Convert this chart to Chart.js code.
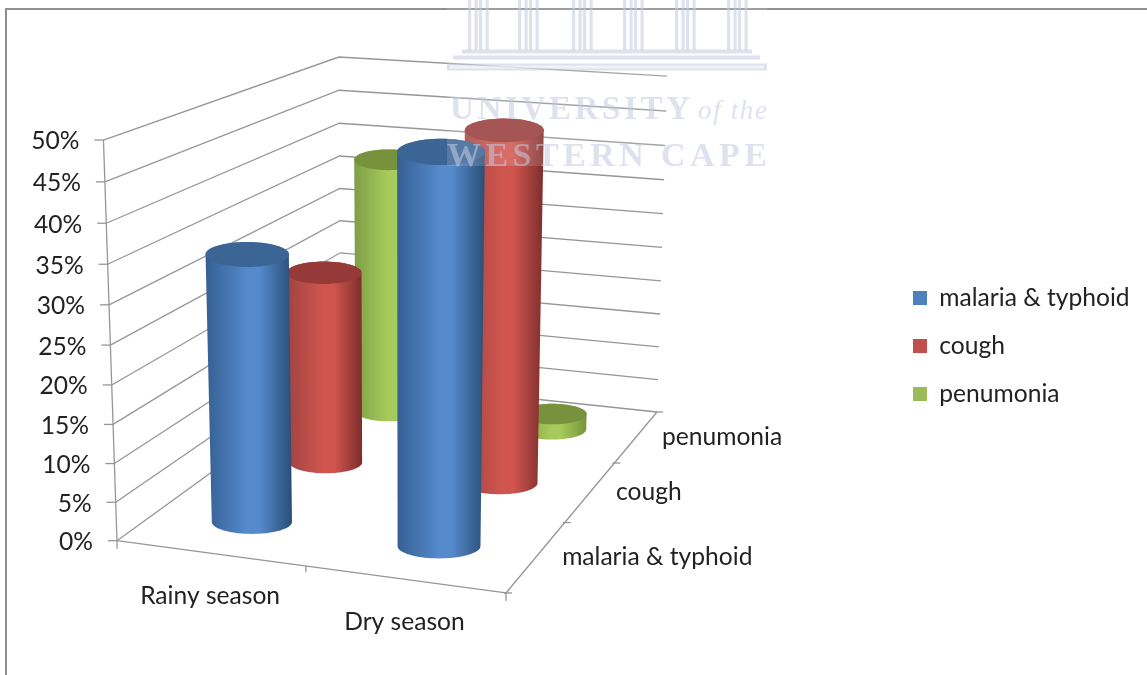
<!DOCTYPE html>
<html>
<head>
<meta charset="utf-8">
<title>Seasonal illness prevalence</title>
<style>html,body{margin:0;padding:0;background:#fff}canvas{display:block}</style>
<script src="https://cdn.jsdelivr.net/npm/chart.js@4/dist/chart.umd.js"></script>
</head>
<body>
<canvas id="chart" width="1147" height="675"></canvas>
<script>
// Chart data
const seasons = ['Rainy season', 'Dry season'];
const illnesses = ['malaria & typhoid', 'cough', 'penumonia'];
const malariaTyphoid = [34.5, 49];
const cough = [26.5, 47.5];
const pneumonia = [37.5, 2];
const percentLabels = ['0%', '5%', '10%', '15%', '20%', '25%', '30%', '35%', '40%', '45%', '50%'];

// Palette: [left edge, body highlight, right edge, cap]
const shades = {
  blue: ['#355f92', '#558acd', '#2b4e76', '#3b6595'],
  red: ['#a04341', '#d1554f', '#7c2e2c', '#953a38'],
  green: ['#7f9e48', '#a6ca5b', '#76953a', '#76923c']
};
const seriesFill = ['#4f81bd', '#c0504d', '#9bbb59'];

const FONT = 'Lato, "Open Sans", sans-serif';
const FONT_SIZE = 24.6;
const TEXT = '#222222';
const RULE = '#969696';

// Perspective camera: maps box coordinates (across, deep, up), each 0..1, to canvas pixels.
const camera = {
  origin: [117, 540.7],
  across: [360.6, 19.0],
  deep: [312, -64.5],
  up: [-18.3, -407.1],
  w: [-0.0561, 0.258, -0.046]
};
const depthTerm = (u, v, h) => 1 + camera.w[0] * u + camera.w[1] * v + camera.w[2] * h;
function project(u, v, h) {
  const d = depthTerm(u, v, h);
  return [
    (camera.origin[0] + camera.across[0] * u + camera.deep[0] * v + camera.up[0] * h) / d,
    (camera.origin[1] + camera.across[1] * u + camera.deep[1] * v + camera.up[1] * h) / d
  ];
}
const decimalOf = (scale, value) => scale.getDecimalForPixel(scale.getPixelForValue(value));

function segment(ctx, a, b) {
  ctx.beginPath();
  ctx.moveTo(a[0], a[1]);
  ctx.lineTo(b[0], b[1]);
  ctx.stroke();
}

// Cylinder cross-section: an upright ellipse whose width shrinks with distance.
const BASE_RADIUS = 41.5;
const RADIUS_FALLOFF = 1.2;
const ELLIPSE_RATIO = 0.3;
// Cylinders sit very slightly below the floor plane.
const FOOT_SINK = -0.006;

function ring(u, v, h) {
  const c = project(u, v, h);
  const rx = BASE_RADIUS / Math.pow(depthTerm(u, v, h), RADIUS_FALLOFF);
  const pts = [];
  for (let k = 0; k < 72; k++) {
    const t = k / 72 * Math.PI * 2;
    pts.push([c[0] + rx * Math.cos(t), c[1] + rx * ELLIPSE_RATIO * Math.sin(t)]);
  }
  return pts;
}
function hull(points) {
  const p = points.slice().sort((a, b) => a[0] - b[0] || a[1] - b[1]);
  const cross = (o, a, b) => (a[0] - o[0]) * (b[1] - o[1]) - (a[1] - o[1]) * (b[0] - o[0]);
  const half = list => {
    const out = [];
    for (const q of list) {
      while (out.length > 1 && cross(out[out.length - 2], out[out.length - 1], q) <= 0) out.pop();
      out.push(q);
    }
    out.pop();
    return out;
  };
  return half(p).concat(half(p.slice().reverse()));
}
function tracePolygon(ctx, pts) {
  ctx.beginPath();
  pts.forEach((q, i) => (i ? ctx.lineTo(q[0], q[1]) : ctx.moveTo(q[0], q[1])));
  ctx.closePath();
}

// Bar controller whose bars are drawn as perspective cylinders.
const BarBase = Chart.registry.getController('bar');
class CylinderController extends BarBase {
  draw() {
    const chart = this.chart;
    const ctx = chart.ctx;
    const meta = this.getMeta();
    const ds = this.getDataset();
    const v = decimalOf(chart.scales.depth, this.index);
    const [edgeA, bright, edgeB, cap] = ds.shades;
    meta._parsed.forEach(item => {
      const u = decimalOf(meta.xScale, item.x);
      const h = decimalOf(meta.yScale, item.y);
      const bottom = ring(u, v, FOOT_SINK);
      const top = ring(u, v, h);
      const outline = hull(bottom.concat(top));
      const xs = outline.map(q => q[0]);
      const grad = ctx.createLinearGradient(Math.min(...xs), 0, Math.max(...xs), 0);
      grad.addColorStop(0, edgeA);
      grad.addColorStop(0.48, bright);
      grad.addColorStop(0.62, bright);
      grad.addColorStop(1, edgeB);
      ctx.save();
      tracePolygon(ctx, outline);
      ctx.fillStyle = grad;
      ctx.fill();
      tracePolygon(ctx, top);
      ctx.fillStyle = cap;
      ctx.fill();
      ctx.restore();
    });
  }
}
CylinderController.id = 'cylinder';
CylinderController.defaults = BarBase.defaults;
CylinderController.overrides = BarBase.overrides;
Chart.register(CylinderController);

// Page frame, walls, floor, axes and axis labels sit underneath the cylinders.
const stagePlugin = {
  id: 'stage',
  afterLayout(chart) {
    const legend = chart.legend;
    const w = legend.width, h = legend.height;
    legend.left = 889.6; legend.right = 889.6 + w;
    legend.top = 346 - h / 2; legend.bottom = 346 + h / 2;
  },
  beforeDatasetsDraw(chart) {
    const ctx = chart.ctx;
    const { x: xs, y: ys, depth } = chart.scales;
    ctx.save();
    ctx.strokeStyle = '#8f8f8f';
    ctx.lineWidth = 2;
    ctx.beginPath();
    ctx.moveTo(6, 675); ctx.lineTo(6, 9); ctx.lineTo(1147, 9);
    ctx.stroke();

    ctx.strokeStyle = RULE;
    ctx.lineWidth = 1.3;
    ctx.fillStyle = TEXT;
    ctx.font = FONT_SIZE + 'px ' + FONT;
    ctx.textBaseline = 'middle';

    // Value gridlines along the left and back walls, plus their tick marks and labels.
    ys.ticks.forEach(tick => {
      const h = decimalOf(ys, tick.value);
      const a = project(0, 0, h), b = project(0, 1, h), c = project(1, 1, h);
      ctx.beginPath();
      ctx.moveTo(a[0], a[1]); ctx.lineTo(b[0], b[1]); ctx.lineTo(c[0], c[1]);
      ctx.stroke();
      segment(ctx, [a[0] - 9, a[1]], a);
      ctx.textAlign = 'right';
      ctx.fillText(tick.label, a[0] - 24, a[1] + 1.5);
    });
    segment(ctx, project(0, 0, 0), project(0, 0, 1));
    segment(ctx, project(0, 0, 0), project(1, 0, 0));
    segment(ctx, project(1, 0, 0), project(1, 1, 0));

    // Tick marks on the floor edges.
    [0, 0.5, 1].forEach(u => {
      const p = project(u, 0, 0);
      segment(ctx, p, [p[0], p[1] + (u === 0.5 ? 6 : 8)]);
    });
    [0, 1 / 3, 2 / 3, 1].forEach(v => {
      const p = project(1, v, 0);
      segment(ctx, [p[0] - 2, p[1]], [p[0] + 6, p[1]]);
    });

    // Season labels below the front edge, illness labels beside the right edge.
    seasons.forEach((name, i) => {
      const p = project(decimalOf(xs, i), 0, 0);
      ctx.textAlign = 'center';
      ctx.fillText(name, p[0], p[1] + 43);
    });
    illnesses.forEach((name, i) => {
      const p = project(1, decimalOf(depth, i), 0);
      ctx.textAlign = 'left';
      ctx.fillText(name, p[0] + 25.5, p[1] + 0.5);
    });
    ctx.restore();
  },
  // Pale institutional crest laid over the upper part of the plot.
  afterDatasetsDraw(chart) {
    const ctx = chart.ctx;
    ctx.save();
    ctx.fillStyle = 'rgba(255,255,255,0.14)';
    ctx.fillRect(447, 0, 320, 166);

    const ink = 'rgba(196,202,224,0.55)';
    ctx.fillStyle = ink;
    [468, 518, 572, 623, 675, 727].forEach(x => {
      [0, 6.5, 11, 17.5].forEach(dx => ctx.fillRect(x + dx, 0, 3.2, 50));
    });
    ctx.fillRect(462, 49.5, 290, 4);
    ctx.fillRect(453, 55.5, 307, 4);
    ctx.fillRect(447, 63.5, 320, 7);
    ctx.fillStyle = 'rgba(255,255,255,0.55)';
    ctx.fillRect(450, 65.5, 314, 3);

    const fitted = (text, font, left, right, baseline) => {
      ctx.font = font;
      ctx.letterSpacing = '0px';
      const spare = right - left - ctx.measureText(text).width;
      ctx.letterSpacing = (spare / (text.length - 1)) + 'px';
      ctx.fillText(text, left, baseline);
      ctx.letterSpacing = '0px';
    };
    ctx.fillStyle = ink;
    ctx.textAlign = 'left';
    ctx.textBaseline = 'alphabetic';
    fitted('UNIVERSITY', 'bold 33px "Liberation Serif"', 450, 690, 119);
    fitted('of the', 'italic 27px "Liberation Serif"', 698, 767, 119);
    fitted('WESTERN CAPE', 'bold 34px "Liberation Serif"', 447, 767, 166);
    ctx.restore();
  }
};

new Chart(document.getElementById('chart'), {
  type: 'cylinder',
  data: {
    labels: seasons,
    datasets: [
      { label: illnesses[0], data: malariaTyphoid, backgroundColor: seriesFill[0], shades: shades.blue, clip: false },
      { label: illnesses[1], data: cough, backgroundColor: seriesFill[1], shades: shades.red, clip: false },
      { label: illnesses[2], data: pneumonia, backgroundColor: seriesFill[2], shades: shades.green, clip: false }
    ]
  },
  options: {
    responsive: false,
    animation: false,
    devicePixelRatio: 1,
    scales: {
      x: { type: 'category', offset: true, display: false },
      y: {
        type: 'linear', min: 0, max: 50, display: false,
        ticks: { stepSize: 5, callback: (value, i) => percentLabels[i] }
      },
      depth: { type: 'category', axis: 'x', labels: illnesses, offset: true, display: false }
    },
    plugins: {
      tooltip: { enabled: false },
      legend: {
        position: 'right',
        labels: {
          boxWidth: 14,
          boxHeight: 14,
          padding: 23.4,
          color: TEXT,
          font: { family: FONT, size: FONT_SIZE }
        }
      }
    }
  },
  plugins: [stagePlugin]
});
</script>
</body>
</html>
